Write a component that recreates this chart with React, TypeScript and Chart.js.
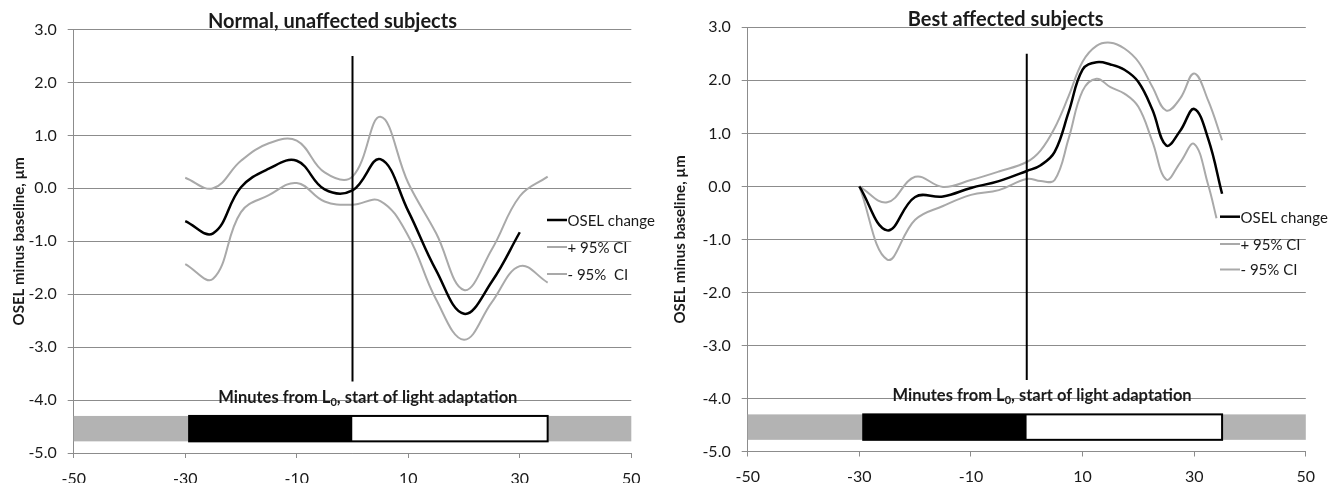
import React, { useEffect, useRef } from 'react';
import { Chart, registerables } from 'chart.js';

Chart.register(...registerables);

// ---------- data ----------
const X_MIN = -50;
const X_MAX = 50;
const X_STEP = 20;
const Y_MIN = -5;
const Y_MAX = 3;
const Y_STEP = 1;

// Left panel: Normal, unaffected subjects
const NORMAL_TITLE = 'Normal, unaffected subjects';
const NORMAL_MEAN_X = [-30, -25, -20, -15, -10, -5, 0, 5, 10, 15, 20, 25, 30];
const NORMAL_MEAN_Y = [-0.62, -0.85, 0.02, 0.37, 0.52, -0.02, -0.04, 0.55, -0.43, -1.55, -2.37, -1.76, -0.83];
const NORMAL_CI_X = [-30, -25, -20, -15, -10, -5, 0, 5, 10, 15, 20, 25, 30, 35];
const NORMAL_UPPER_Y = [0.2, 0.0, 0.52, 0.85, 0.9, 0.3, 0.22, 1.35, 0.1, -0.85, -1.92, -1.15, -0.15, 0.22];
const NORMAL_LOWER_Y = [-1.43, -1.71, -0.45, -0.13, 0.1, -0.25, -0.31, -0.24, -0.9, -2.1, -2.86, -2.15, -1.47, -1.78];
const NORMAL_LEGEND = ['OSEL change', '+ 95% CI', '- 95%  CI'];

// Right panel: Best affected subjects
const BEST_TITLE = 'Best affected subjects';
const BEST_X = [-30, -25, -20, -15, -10, -5, 0, 2.5, 5, 7.5, 10, 12.5, 15, 17.5, 20, 22.5, 25, 27.5, 30, 32.5, 35];
const BEST_MEAN_Y = [0.0, -0.83, -0.2, -0.19, -0.03, 0.1, 0.29, 0.4, 0.65, 1.4, 2.2, 2.34, 2.3, 2.2, 1.97, 1.45, 0.77, 1.05, 1.46, 0.9, -0.14];
const BEST_UPPER_Y = [0.0, -0.3, 0.18, -0.01, 0.12, 0.28, 0.46, 0.68, 1.1, 1.7, 2.35, 2.65, 2.71, 2.6, 2.35, 1.88, 1.43, 1.66, 2.13, 1.62, 0.87];
const BEST_LOWER_X = [-30, -25, -20, -15, -10, -5, 0, 2.5, 5, 7.5, 10, 12.5, 15, 17.5, 20, 22.5, 25, 27.5, 30, 32.5, 34];
const BEST_LOWER_Y = [0.0, -1.38, -0.63, -0.37, -0.16, -0.07, 0.14, 0.1, 0.12, 0.9, 1.8, 2.03, 1.87, 1.75, 1.5, 0.85, 0.13, 0.45, 0.8, 0.03, -0.6];
const BEST_LEGEND = ['OSEL change', '+ 95% CI', '- 95% CI'];

// Shared annotations
const Y_TITLE = 'OSEL minus baseline, µm';
const X_TITLE_MAIN = 'Minutes from L';
const X_TITLE_SUB = '0';
const X_TITLE_REST = ', start of light adaptation';
const X_TITLE_AT = [2.75, -4.0];
const L0_MARKER_X = [0, 0];
const L0_MARKER_Y = [2.5, -3.65];
// protocol timeline: pre-period, dark adaptation, light adaptation, post-period
const PHASE_BOUNDS = [-50, -29.3, 0, 35, 50];
const PHASE_Y = [-4.3, -4.78];

// ---------- styling ----------
const FONT = 'Lato';
const TEXT = '#1a1a1a';
const GRID = '#8c8c8c';
const CI_GRAY = '#a9a9a9';
const PHASE_FILL = ['#b3b3b3', '#000000', '#ffffff', '#b3b3b3'];

type Panel = {
  title: string;
  meanX: number[]; meanY: number[];
  upX: number[]; upY: number[];
  loX: number[]; loY: number[];
  legend: string[];
  left: number;
  titleX: number; titleBase: number;
  legendX: number; legendY: number[];
  padRight: number; padTop: number; yWidth: number; xHeight: number; yTitlePad: number;
};

const pts = (xs: number[], ys: number[]) => xs.map((x, i) => ({ x, y: ys[i] }));

const PANELS: Panel[] = [
  {
    title: NORMAL_TITLE,
    meanX: NORMAL_MEAN_X, meanY: NORMAL_MEAN_Y,
    upX: NORMAL_CI_X, upY: NORMAL_UPPER_Y,
    loX: NORMAL_CI_X, loY: NORMAL_LOWER_Y,
    legend: NORMAL_LEGEND,
    left: 0,
    titleX: 332.5, titleBase: 27.5,
    legendX: 547, legendY: [220, 247, 274],
    padRight: 36.7, padTop: 29.5, yWidth: 73.7, xHeight: 30, yTitlePad: 10,
  },
  {
    title: BEST_TITLE,
    meanX: BEST_X, meanY: BEST_MEAN_Y,
    upX: BEST_X, upY: BEST_UPPER_Y,
    loX: BEST_LOWER_X, loY: BEST_LOWER_Y,
    legend: BEST_LEGEND,
    left: 668,
    titleX: 337.7, titleBase: 25.5,
    legendX: 552, legendY: [216.7, 244, 269.5],
    padRight: 30.2, padTop: 27.3, yWidth: 79.7, xHeight: 31.5, yTitlePad: 3.6,
  },
];

function decorPlugin(p: Panel) {
  return {
    id: 'decor',
    beforeDatasetsDraw(chart: any) {
      const { ctx, scales } = chart;
      const xs = scales.x, ys = scales.y;
      const top = ys.getPixelForValue(PHASE_Y[0]);
      const bot = ys.getPixelForValue(PHASE_Y[1]);
      ctx.save();
      for (let i = 0; i < PHASE_BOUNDS.length - 1; i++) {
        const a = xs.getPixelForValue(PHASE_BOUNDS[i]);
        const b = xs.getPixelForValue(PHASE_BOUNDS[i + 1]);
        ctx.fillStyle = PHASE_FILL[i];
        ctx.fillRect(a, top, b - a, bot - top);
      }
      // outline the dark + light adaptation blocks
      const a1 = xs.getPixelForValue(PHASE_BOUNDS[1]);
      const a2 = xs.getPixelForValue(PHASE_BOUNDS[3]);
      ctx.strokeStyle = '#000';
      ctx.lineWidth = 2;
      ctx.strokeRect(a1, top, a2 - a1, bot - top);
      ctx.restore();
    },
    afterDraw(chart: any) {
      const { ctx, scales } = chart;
      const xs = scales.x, ys = scales.y;
      ctx.save();
      // title
      ctx.fillStyle = TEXT;
      ctx.font = `bold 20px ${FONT}`;
      ctx.textAlign = 'center';
      ctx.textBaseline = 'alphabetic';
      ctx.fillText(p.title, p.titleX, p.titleBase);

      // x-axis caption with subscript
      const cx = xs.getPixelForValue(X_TITLE_AT[0]);
      const base = ys.getPixelForValue(X_TITLE_AT[1]) + 3;
      const mainFont = `bold 16.5px ${FONT}`;
      const subFont = `bold 11px ${FONT}`;
      ctx.font = mainFont;
      const w1 = ctx.measureText(X_TITLE_MAIN).width;
      const w3 = ctx.measureText(X_TITLE_REST).width;
      ctx.font = subFont;
      const w2 = ctx.measureText(X_TITLE_SUB).width;
      let sx = cx - (w1 + w2 + w3) / 2;
      ctx.textAlign = 'left';
      ctx.font = mainFont;
      ctx.fillText(X_TITLE_MAIN, sx, base);
      sx += w1;
      ctx.font = subFont;
      ctx.fillText(X_TITLE_SUB, sx, base + 3);
      sx += w2;
      ctx.font = mainFont;
      ctx.fillText(X_TITLE_REST, sx, base);

      // legend
      ctx.font = `15px ${FONT}`;
      ctx.textBaseline = 'middle';
      p.legend.forEach((label, i) => {
        const ly = p.legendY[i];
        ctx.beginPath();
        ctx.moveTo(p.legendX, ly);
        ctx.lineTo(p.legendX + 20, ly);
        ctx.strokeStyle = i === 0 ? '#000' : CI_GRAY;
        ctx.lineWidth = i === 0 ? 2.5 : 2;
        ctx.stroke();
        ctx.fillStyle = TEXT;
        ctx.fillText(label, p.legendX + 20.5, ly + 1);
      });
      ctx.restore();
    },
  };
}

function buildConfig(p: Panel): any {
  return {
    type: 'line',
    data: {
      datasets: [
        {
          label: p.legend[0],
          data: pts(p.meanX, p.meanY),
          borderColor: '#000',
          borderWidth: 2.5,
          pointRadius: 0,
          tension: 0.4,
          order: 0,
        },
        {
          label: 'L0',
          data: pts(L0_MARKER_X, L0_MARKER_Y),
          borderColor: '#000',
          borderWidth: 2,
          pointRadius: 0,
          tension: 0,
          order: 1,
        },
        {
          label: p.legend[1],
          data: pts(p.upX, p.upY),
          borderColor: CI_GRAY,
          borderWidth: 2,
          pointRadius: 0,
          tension: 0.4,
          order: 2,
        },
        {
          label: p.legend[2],
          data: pts(p.loX, p.loY),
          borderColor: CI_GRAY,
          borderWidth: 2,
          pointRadius: 0,
          tension: 0.4,
          order: 3,
        },
      ],
    },
    options: {
      responsive: false,
      animation: false,
      devicePixelRatio: 1,
      layout: { padding: { left: 0, right: p.padRight, top: p.padTop, bottom: 0 } },
      plugins: {
        legend: { display: false },
        tooltip: { enabled: false },
        title: { display: false },
      },
      scales: {
        x: {
          type: 'linear',
          min: X_MIN,
          max: X_MAX,
          ticks: {
            stepSize: X_STEP,
            autoSkip: false,
            maxRotation: 0,
            padding: 11,
            color: TEXT,
            font: { family: FONT, size: 16 },
          },
          grid: { drawOnChartArea: false, drawTicks: true, tickLength: 5, color: GRID },
          border: { display: true, color: GRID, width: 1 },
          afterFit: (s: any) => { s.height = p.xHeight; },
        },
        y: {
          type: 'linear',
          min: Y_MIN,
          max: Y_MAX,
          ticks: {
            stepSize: Y_STEP,
            padding: 11,
            color: TEXT,
            font: { family: FONT, size: 16 },
            callback: (v: any) => Number(v).toFixed(1),
          },
          grid: { color: GRID, lineWidth: 1, tickLength: 6 },
          border: { display: true, color: GRID, width: 1 },
          title: {
            display: true,
            text: Y_TITLE,
            color: TEXT,
            font: { family: FONT, size: 15, weight: 'bold' },
            padding: { top: p.yTitlePad, bottom: 0 },
          },
          afterFit: (s: any) => { s.width = p.yWidth; },
        },
      },
    },
    plugins: [decorPlugin(p)],
  };
}

function PanelChart({ panel }: { panel: Panel }) {
  const ref = useRef<HTMLCanvasElement>(null);
  useEffect(() => {
    if (!ref.current) return;
    const chart = new Chart(ref.current, buildConfig(panel));
    return () => chart.destroy();
  }, [panel]);
  return (
    <canvas
      ref={ref}
      width={668}
      height={483}
      style={{ position: 'absolute', left: panel.left, top: 0, width: 668, height: 483, display: 'block' }}
    />
  );
}

export default function App() {
  return (
    <div style={{ position: 'absolute', left: 0, top: 0, width: 1336, height: 483, background: '#fff', overflow: 'hidden' }}>
      {PANELS.map((p) => (
        <PanelChart key={p.title} panel={p} />
      ))}
    </div>
  );
}
